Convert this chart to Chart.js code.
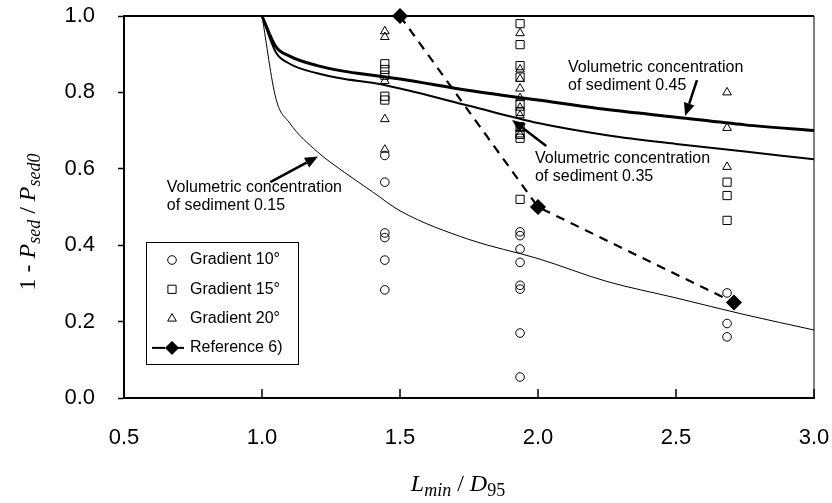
<!DOCTYPE html>
<html>
<head>
<meta charset="utf-8">
<script src="https://cdn.jsdelivr.net/npm/chart.js@4"></script>
<style>
  html, body { margin: 0; padding: 0; background: #fff; }
  #wrap { width: 832px; height: 503px; }
</style>
</head>
<body>
<div id="wrap"><canvas id="chart"></canvas></div>
<script>
// Curves for the three sediment concentrations
const curveX  = [1.0, 1.05, 1.1, 1.2, 1.3, 1.4, 1.5, 1.75, 2.0, 2.25, 2.5, 2.75, 3.0];
const conc045 = [1.0, 0.92, 0.895, 0.87, 0.855, 0.845, 0.835, 0.805, 0.78, 0.755, 0.735, 0.715, 0.70];
const conc035 = [1.0, 0.905, 0.875, 0.85, 0.835, 0.825, 0.81, 0.765, 0.72, 0.688, 0.665, 0.645, 0.625];
const conc015 = [1.0, 0.785, 0.72, 0.645, 0.59, 0.54, 0.49, 0.415, 0.365, 0.305, 0.262, 0.218, 0.178];

// Reference 6)
const refX = [1.5, 2.0, 2.71];
const refY = [1.0, 0.5, 0.25];

// Measured points
const grad10X = [1.445, 1.445, 1.445, 1.445, 1.445, 1.445,
                 1.935, 1.935, 1.935, 1.935, 1.935, 1.935, 1.935, 1.935,
                 2.685, 2.685, 2.685];
const grad10Y = [0.635, 0.565, 0.432, 0.42, 0.361, 0.283,
                 0.435, 0.425, 0.39, 0.355, 0.295, 0.285, 0.17, 0.055,
                 0.275, 0.195, 0.16];
const grad15X = [1.445, 1.445, 1.445, 1.445, 1.445,
                 1.935, 1.935, 1.935, 1.935, 1.935, 1.935, 1.935, 1.935, 1.935, 1.935,
                 2.685, 2.685, 2.685];
const grad15Y = [0.875, 0.86, 0.845, 0.79, 0.78,
                 0.98, 0.925, 0.87, 0.84, 0.77, 0.75, 0.71, 0.69, 0.68, 0.52,
                 0.565, 0.53, 0.465];
const grad20X = [1.445, 1.445, 1.445, 1.445, 1.445,
                 1.935, 1.935, 1.935, 1.935, 1.935, 1.935, 1.935, 1.935, 1.935,
                 2.685, 2.685, 2.685];
const grad20Y = [0.96, 0.945, 0.83, 0.73, 0.65,
                 0.955, 0.86, 0.835, 0.81, 0.785, 0.76, 0.74, 0.705, 0.69,
                 0.80, 0.707, 0.605];

const seriesLabels = ['Gradient 10°', 'Gradient 15°', 'Gradient 20°', 'Reference 6)'];
const noteLines = [
  ['Volumetric concentration', 'of sediment 0.45'],
  ['Volumetric concentration', 'of sediment 0.35'],
  ['Volumetric concentration', 'of sediment 0.15']
];

const toPts = (xs, ys) => xs.map((x, i) => ({ x: x, y: ys[i] }));

const tickFont = { family: 'Liberation Sans, Arial, sans-serif', size: 22 };
const noteFont = '16px "Liberation Sans", Arial, sans-serif';

function drawArrow(ctx, x1, y1, x2, y2) {
  const ang = Math.atan2(y2 - y1, x2 - x1);
  const head = 13, half = 5.5;
  const bx = x2 - head * Math.cos(ang), by = y2 - head * Math.sin(ang);
  ctx.lineWidth = 2.5;
  ctx.beginPath(); ctx.moveTo(x1, y1); ctx.lineTo(bx, by); ctx.stroke();
  ctx.beginPath();
  ctx.moveTo(x2, y2);
  ctx.lineTo(bx + half * Math.sin(ang), by - half * Math.cos(ang));
  ctx.lineTo(bx - half * Math.sin(ang), by + half * Math.cos(ang));
  ctx.closePath();
  ctx.fill();
}

// draws runs of text with italic / subscript parts, centred on (0,0)
function drawRich(ctx, parts) {
  let total = 0;
  parts.forEach(p => {
    ctx.font = p.style + ' ' + p.size + 'px "Liberation Serif", "Times New Roman", serif';
    p.w = ctx.measureText(p.t).width;
    total += p.w;
  });
  let x = -total / 2;
  ctx.textAlign = 'left';
  ctx.textBaseline = 'alphabetic';
  parts.forEach(p => {
    ctx.font = p.style + ' ' + p.size + 'px "Liberation Serif", "Times New Roman", serif';
    ctx.fillText(p.t, x, 8 + (p.sub ? 5 : 0));
    x += p.w;
  });
}

const decorPlugin = {
  id: 'decor',
  afterDraw(chart) {
    const { ctx, chartArea: a, scales: { x, y } } = chart;
    ctx.save();
    ctx.strokeStyle = '#000';
    ctx.fillStyle = '#000';

    // frame top and right
    ctx.lineWidth = 2;
    ctx.beginPath(); ctx.moveTo(a.left - 1, a.top); ctx.lineTo(a.right, a.top); ctx.stroke();
    ctx.lineWidth = 1;
    ctx.beginPath(); ctx.moveTo(a.right, a.top); ctx.lineTo(a.right, a.bottom); ctx.stroke();

    // inward ticks on the x axis
    ctx.lineWidth = 1.5;
    x.ticks.forEach(t => {
      const px = x.getPixelForValue(t.value);
      ctx.beginPath(); ctx.moveTo(px, a.bottom); ctx.lineTo(px, a.bottom - 9); ctx.stroke();
    });

    // notes and arrows
    ctx.font = noteFont;
    ctx.textAlign = 'left';
    ctx.textBaseline = 'middle';
    const notes = [
      { x: 2.109, y: 0.866, from: [2.576, 0.832], to: [2.533, 0.738] },
      { x: 1.989, y: 0.628, from: [2.03, 0.66], to: [1.906, 0.728] },
      { x: 0.655, y: 0.552, from: [1.03, 0.565], to: [1.203, 0.632] }
    ];
    notes.forEach((n, i) => {
      const px = x.getPixelForValue(n.x), py = y.getPixelForValue(n.y);
      ctx.fillText(noteLines[i][0], px, py);
      ctx.fillText(noteLines[i][1], px, py + 18);
      drawArrow(ctx, x.getPixelForValue(n.from[0]), y.getPixelForValue(n.from[1]),
                x.getPixelForValue(n.to[0]), y.getPixelForValue(n.to[1]));
    });

    // legend box
    const lx = a.left + 22, ly = a.top + 226, lw = 152, lh = 122;
    ctx.fillStyle = '#fff';
    ctx.fillRect(lx, ly, lw, lh);
    ctx.lineWidth = 1;
    ctx.strokeRect(lx + 0.5, ly + 0.5, lw, lh);
    ctx.fillStyle = '#000';
    const legendSets = [chart.data.datasets[4], chart.data.datasets[5], chart.data.datasets[6], chart.data.datasets[3]];
    legendSets.forEach((ds, i) => {
      const cy = ly + 18 + i * 29.3;
      const mx = lx + 26;
      if (ds.showLine) {
        ctx.save();
        ctx.lineWidth = 2;
        ctx.beginPath(); ctx.moveTo(lx + 6, cy); ctx.lineTo(lx + 19, cy); ctx.stroke();
        ctx.beginPath(); ctx.moveTo(lx + 32, cy); ctx.lineTo(lx + 38, cy); ctx.stroke();
        ctx.restore();
      }
      ctx.save();
      ctx.fillStyle = ds.pointBackgroundColor;
      ctx.strokeStyle = '#000';
      ctx.lineWidth = 1;
      Chart.helpers.drawPoint(ctx, { pointStyle: ds.pointStyle, radius: ds.pointRadius, borderWidth: 1, rotation: 0 }, mx, cy);
      ctx.restore();
      ctx.font = noteFont;
      ctx.fillStyle = '#000';
      ctx.fillText(seriesLabels[i], lx + 44, cy);
    });

    // axis titles
    ctx.save();
    ctx.translate(27, 222);
    ctx.rotate(-Math.PI / 2);
    drawRich(ctx, [
      { t: '1 - ', style: 'normal', size: 24 },
      { t: 'P', style: 'italic', size: 24 },
      { t: 'sed', style: 'italic', size: 18, sub: true },
      { t: ' / ', style: 'normal', size: 24 },
      { t: 'P', style: 'italic', size: 24 },
      { t: 'sed0', style: 'italic', size: 18, sub: true }
    ]);
    ctx.restore();

    ctx.save();
    ctx.translate(458, 483);
    drawRich(ctx, [
      { t: 'L', style: 'italic', size: 24 },
      { t: 'min', style: 'italic', size: 18, sub: true },
      { t: ' / ', style: 'normal', size: 24 },
      { t: 'D', style: 'italic', size: 24 },
      { t: '95', style: 'normal', size: 18, sub: true }
    ]);
    ctx.restore();

    ctx.restore();
  }
};

const curveStyle = (w) => ({
  showLine: true, pointRadius: 0, borderColor: '#000', borderWidth: w,
  cubicInterpolationMode: 'monotone', fill: false, clip: false
});

new Chart(document.getElementById('chart'), {
  type: 'scatter',
  data: {
    datasets: [
      Object.assign({ label: 'c045', data: toPts(curveX, conc045) }, curveStyle(3)),
      Object.assign({ label: 'c035', data: toPts(curveX, conc035) }, curveStyle(2)),
      Object.assign({ label: 'c015', data: toPts(curveX, conc015) }, curveStyle(1)),
      {
        label: seriesLabels[3], data: toPts(refX, refY), showLine: true,
        borderColor: '#000', borderWidth: 2.2, borderDash: [9, 7],
        pointStyle: 'rectRot', pointRadius: 6.5, pointBackgroundColor: '#000',
        pointBorderColor: '#000', clip: false
      },
      {
        label: seriesLabels[0], data: toPts(grad10X, grad10Y),
        pointStyle: 'circle', pointRadius: 4.3, pointBackgroundColor: 'rgba(255,255,255,0)',
        pointBorderColor: '#000', pointBorderWidth: 1
      },
      {
        label: seriesLabels[1], data: toPts(grad15X, grad15Y),
        pointStyle: 'rect', pointRadius: 5.8, pointBackgroundColor: 'rgba(255,255,255,0)',
        pointBorderColor: '#000', pointBorderWidth: 1
      },
      {
        label: seriesLabels[2], data: toPts(grad20X, grad20Y),
        pointStyle: 'triangle', pointRadius: 5, pointBackgroundColor: 'rgba(255,255,255,0)',
        pointBorderColor: '#000', pointBorderWidth: 1
      }
    ]
  },
  options: {
    responsive: true,
    maintainAspectRatio: false,
    animation: false,
    layout: { padding: { left: 0, top: 16, right: 18, bottom: 0 } },
    plugins: { legend: { display: false }, tooltip: { enabled: false } },
    scales: {
      x: {
        type: 'linear', min: 0.5, max: 3.0,
        ticks: { stepSize: 0.5, color: '#000', font: tickFont, padding: 19,
                 callback: v => v.toFixed(1), maxRotation: 0 },
        grid: { display: false },
        border: { display: true, color: '#000', width: 2 },
        afterFit: s => { s.height = 105; s.paddingLeft = 0; s.paddingRight = 0; }
      },
      y: {
        type: 'linear', min: 0, max: 1.0,
        ticks: { stepSize: 0.2, color: '#000', font: tickFont, padding: 23,
                 callback: v => v.toFixed(1) },
        grid: { drawOnChartArea: false, drawTicks: true, tickLength: 6, tickWidth: 1.5, tickColor: '#000' },
        border: { display: true, color: '#000', width: 2 },
        afterFit: s => { s.width = 124; s.paddingTop = 0; s.paddingBottom = 0; }
      }
    }
  },
  plugins: [decorPlugin]
});
</script>
</body>
</html>
